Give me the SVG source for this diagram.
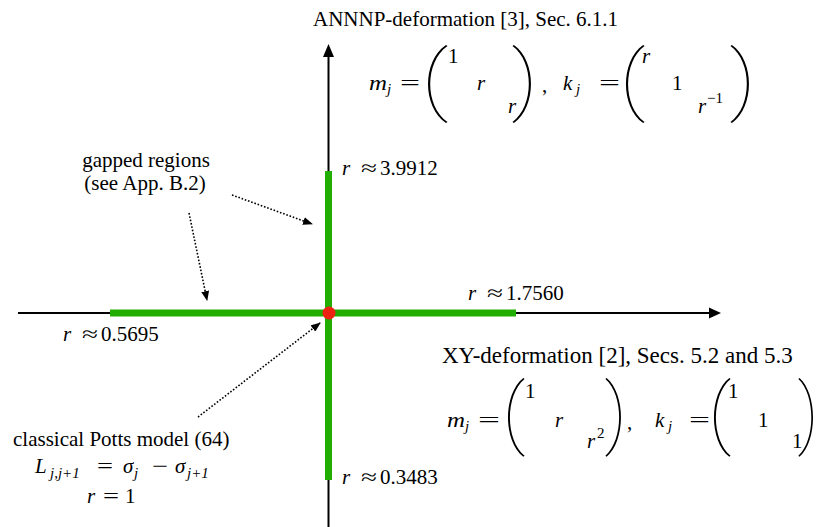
<svg xmlns="http://www.w3.org/2000/svg" xmlns:xlink="http://www.w3.org/1999/xlink" width="816" height="527" viewBox="0 0 816 527">
<style>
text{font-family:"Liberation Serif","Times New Roman",serif;font-size:21px;fill:#000}
.i{font-style:italic}
.s{font-size:15px}
.big{font-size:23px}
.axis{stroke:#000;stroke-width:2;fill:none}
.green{stroke:#22ae00;stroke-width:7;fill:none}
.dot{stroke:#000;stroke-width:1.6;fill:none;stroke-dasharray:1.6 1.8}
</style>
<defs>
<path id="lp" d="M18,0 C-6,16 -6,62 18,78 L19.5,77 C-3.5,61 -3.5,17 19.5,1 Z"/>
<marker id="ah" markerWidth="10" markerHeight="8" refX="9" refY="4" orient="auto" markerUnits="userSpaceOnUse">
<path d="M0,0 L10,4 L0,8 Z" fill="#000"/>
</marker>
</defs>
<rect width="816" height="527" fill="#fff"/>
<g id="axes">
<line class="axis" x1="18" y1="313" x2="711" y2="313"/>
<polygon points="721,313 709,307.5 709,318.5" fill="#000"/>
<line class="axis" x1="328.5" y1="56" x2="328.5" y2="527"/>
<polygon points="328.5,44 323,57 334,57" fill="#000"/>
<line class="green" x1="110" y1="313" x2="516" y2="313"/>
<line class="green" x1="328.5" y1="171" x2="328.5" y2="480"/>
<circle cx="329" cy="313" r="6.5" fill="#ee2211"/>
</g>
<g id="connectors">
<line class="dot" x1="232" y1="195" x2="312" y2="224" marker-end="url(#ah)"/>
<line class="dot" x1="189" y1="213" x2="207" y2="300" marker-end="url(#ah)"/>
<line class="dot" x1="198" y1="417" x2="320" y2="323" marker-end="url(#ah)"/>
</g>
<g id="annnp">
<text x="313" y="26">ANNNP-deformation [3], Sec. 6.1.1</text>
<text class="i" x="369" y="90" textLength="18" lengthAdjust="spacingAndGlyphs">m</text><text class="i s" x="387" y="94">j</text>
<text x="400" y="90" textLength="20" lengthAdjust="spacingAndGlyphs">=</text>
<use xlink:href="#lp" transform="translate(428,45)"/>
<text x="448" y="63">1</text>
<text class="i" x="477" y="90">r</text>
<text class="i" x="508" y="113">r</text>
<use xlink:href="#lp" transform="translate(531,45) scale(-0.95,1)"/>
<text x="542" y="92">,</text>
<text class="i" x="563" y="90">k</text><text class="i s" x="576" y="94">j</text>
<text x="599" y="90" textLength="21" lengthAdjust="spacingAndGlyphs">=</text>
<use xlink:href="#lp" transform="translate(626,45) scale(0.95,1)"/>
<text class="i" x="642" y="63">r</text>
<text x="672" y="90">1</text>
<text class="i" x="698" y="113">r</text><text class="s" x="707" y="103">−1</text>
<use xlink:href="#lp" transform="translate(749,45) scale(-0.95,1)"/>
</g>
<g id="xy">
<text class="big" x="442" y="363">XY-deformation [2], Secs. 5.2 and 5.3</text>
<text class="i" x="447" y="427" textLength="18" lengthAdjust="spacingAndGlyphs">m</text><text class="i s" x="465" y="431">j</text>
<text x="478" y="427" textLength="22" lengthAdjust="spacingAndGlyphs">=</text>
<use xlink:href="#lp" transform="translate(508,378) scale(0.85,1.01)"/>
<text x="525" y="398">1</text>
<text class="i" x="555" y="427">r</text>
<text class="i" x="587" y="448">r</text><text class="s" x="597" y="438">2</text>
<use xlink:href="#lp" transform="translate(621,378) scale(-0.8,1.01)"/>
<text x="627" y="429">,</text>
<text class="i" x="655" y="427">k</text><text class="i s" x="668" y="431">j</text>
<text x="689" y="427" textLength="21" lengthAdjust="spacingAndGlyphs">=</text>
<use xlink:href="#lp" transform="translate(714,378) scale(0.85,1.01)"/>
<text x="728" y="398">1</text>
<text x="758" y="427">1</text>
<text x="792" y="448">1</text>
<use xlink:href="#lp" transform="translate(813,378) scale(-0.75,1.01)"/>
</g>
<g id="gapped">
<text x="146" y="167" text-anchor="middle">gapped regions</text>
<text x="145" y="190" text-anchor="middle">(see App. B.2)</text>
</g>
<g id="potts">
<text x="13" y="446">classical Potts model (64)</text>
<text class="i" x="35" y="473">L</text><text class="i s" x="50" y="478">j,j+1</text>
<text x="97" y="473" textLength="16" lengthAdjust="spacingAndGlyphs">=</text>
<text class="i" x="123" y="473">σ</text><text class="i s" x="134" y="478">j</text>
<text x="152" y="473" textLength="16" lengthAdjust="spacingAndGlyphs">−</text>
<text class="i" x="175" y="473">σ</text><text class="i s" x="187" y="478">j+1</text>
<text class="i" x="87" y="503">r</text>
<text x="103" y="503" textLength="16" lengthAdjust="spacingAndGlyphs">=</text>
<text x="125" y="503">1</text>
</g>
<g id="r39912">
<text class="i" x="342" y="175">r</text>
<text x="361" y="175" textLength="16" lengthAdjust="spacingAndGlyphs">≈</text>
<text x="380" y="175">3.9912</text>
</g>
<g id="r17560">
<text class="i" x="468" y="300">r</text>
<text x="487" y="300" textLength="16" lengthAdjust="spacingAndGlyphs">≈</text>
<text x="506" y="300">1.7560</text>
</g>
<g id="r05695">
<text class="i" x="63" y="341">r</text>
<text x="82" y="341" textLength="16" lengthAdjust="spacingAndGlyphs">≈</text>
<text x="101" y="341">0.5695</text>
</g>
<g id="r03483">
<text class="i" x="342" y="484">r</text>
<text x="361" y="484" textLength="16" lengthAdjust="spacingAndGlyphs">≈</text>
<text x="380" y="484">0.3483</text>
</g>
</svg>
